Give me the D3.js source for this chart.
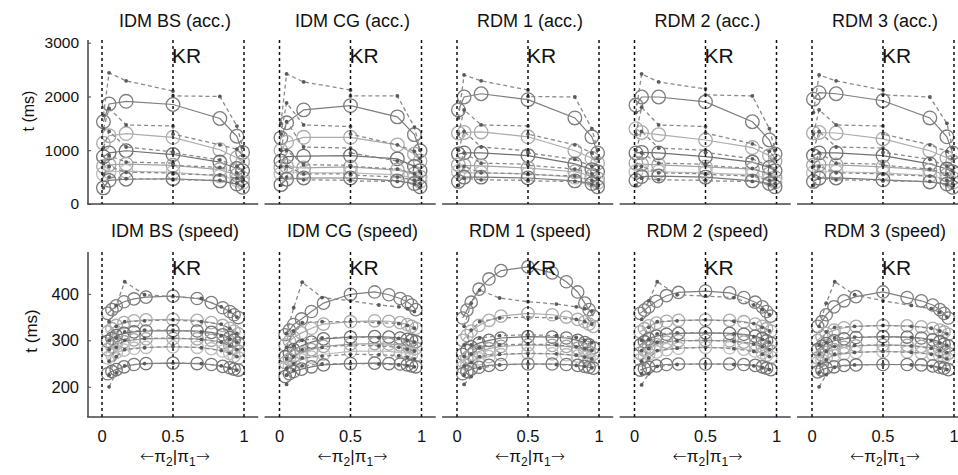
<!DOCTYPE html>
<html>
<head>
  <meta charset="utf-8">
  <title>KR - acc. and speed</title>
  <script src="https://d3js.org/d3.v7.min.js"></script>
  <style>
    body { margin: 0; background: #fff; }
    text { font-family: "Liberation Sans", Arial, sans-serif; fill: #111; }
  </style>
</head>
<body>
  <div id="chart"></div>
  <script>
    var accTitles = ["IDM BS (acc.)", "IDM CG (acc.)", "RDM 1 (acc.)", "RDM 2 (acc.)", "RDM 3 (acc.)"];
    var speedTitles = ["IDM BS (speed)", "IDM CG (speed)", "RDM 1 (speed)", "RDM 2 (speed)", "RDM 3 (speed)"];

    var xTicks = [0, 0.5, 1];
    var accYTicks = [0, 1000, 2000, 3000];
    var speedYTicks = [200, 300, 400];

    // pi_1 values of model points (circles) and data points (dots)
    var accX = [0.01, 0.05, 0.17, 0.5, 0.83, 0.95, 0.99];
    var accDataX = [0.01, 0.05, 0.17, 0.5, 0.5, 0.83, 0.95, 0.99];
    var speedX = [0.04, 0.07, 0.1, 0.155, 0.225, 0.31, 0.5, 0.67, 0.77, 0.85, 0.9, 0.93, 0.96];
    var speedDataX = [0.05, 0.1, 0.16, 0.3, 0.5, 0.7, 0.84, 0.9, 0.95];

    // ---- accuracy emphasis, model (ms) ----
    var idmBsAccModel = [
      [1530, 1860, 1910, 1850, 1590, 1260, 960],
      [1130, 1270, 1310, 1240, 1010, 860, 780],
      [880, 950, 990, 920, 780, 660, 620],
      [700, 730, 740, 720, 640, 540, 480],
      [560, 600, 610, 590, 520, 450, 400],
      [300, 440, 460, 470, 430, 370, 310]
    ];
    var idmCgAccModel = [
      [1230, 1510, 1750, 1830, 1620, 1290, 990],
      [1000, 1150, 1240, 1240, 1100, 930, 800],
      [800, 880, 890, 900, 840, 700, 620],
      [680, 700, 670, 690, 630, 560, 500],
      [560, 600, 580, 580, 540, 480, 420],
      [360, 460, 484, 484, 430, 380, 320]
    ];
    var rdm1AccModel = [
      [1750, 1990, 2050, 1940, 1600, 1250, 950],
      [1320, 1330, 1340, 1250, 990, 850, 760],
      [930, 950, 950, 900, 745, 640, 600],
      [730, 720, 710, 670, 600, 520, 470],
      [600, 580, 580, 560, 500, 450, 400],
      [420, 500, 500, 484, 430, 380, 320]
    ];
    var rdm2AccModel = [
      [1840, 1990, 1990, 1900, 1530, 1190, 930],
      [1400, 1330, 1290, 1190, 1050, 900, 800],
      [950, 960, 950, 880, 780, 680, 620],
      [760, 740, 726, 690, 650, 560, 490],
      [600, 610, 600, 580, 540, 470, 410],
      [440, 510, 520, 500, 430, 380, 320]
    ];
    var rdm3AccModel = [
      [1950, 2070, 2050, 1920, 1600, 1250, 950],
      [1320, 1330, 1320, 1210, 990, 860, 780],
      [900, 950, 950, 900, 745, 650, 600],
      [720, 730, 726, 690, 630, 540, 480],
      [580, 600, 600, 580, 530, 460, 400],
      [420, 480, 484, 450, 410, 370, 310]
    ];

    // ---- accuracy emphasis, data (ms) ----
    var idmBsAccData = [
      [1650, 2440, 2290, 2100, 2010, 2000, 1450, 1060],
      [1400, 1780, 1470, 1450, 1300, 1100, 1020, 900],
      [1050, 1350, 1060, 970, 950, 820, 700, 620],
      [750, 900, 780, 760, 720, 680, 580, 500],
      [550, 700, 590, 577, 560, 540, 480, 420],
      [300, 500, 470, 460, 450, 440, 390, 320]
    ];
    var idmCgAccData = [
      [1500, 2420, 2270, 2120, 2010, 2010, 1430, 1000],
      [1300, 1880, 1470, 1440, 1300, 1100, 980, 850],
      [1000, 1530, 1060, 1040, 950, 800, 700, 600],
      [700, 1000, 730, 720, 700, 650, 560, 480],
      [500, 700, 560, 560, 540, 500, 440, 380],
      [350, 500, 450, 440, 430, 420, 370, 300]
    ];
    var rdm1AccData = [
      [1600, 2400, 2290, 2120, 2000, 1990, 1400, 1000],
      [1300, 1750, 1470, 1450, 1300, 1100, 950, 850],
      [1000, 1350, 1060, 990, 950, 830, 700, 620],
      [700, 950, 760, 740, 720, 650, 560, 480],
      [520, 700, 580, 560, 550, 520, 440, 380],
      [350, 480, 450, 440, 430, 420, 360, 300]
    ];
    var rdm2AccData = [
      [1700, 2420, 2270, 2140, 2030, 2010, 1400, 1000],
      [1300, 1800, 1470, 1440, 1320, 1120, 980, 850],
      [1000, 1350, 1040, 1000, 960, 840, 700, 620],
      [700, 950, 760, 740, 720, 660, 560, 480],
      [520, 700, 580, 560, 550, 520, 440, 380],
      [350, 480, 450, 440, 430, 420, 360, 300]
    ];
    var rdm3AccData = [
      [1700, 2400, 2290, 2120, 2030, 1990, 1500, 1050],
      [1300, 1750, 1470, 1450, 1300, 1100, 980, 850],
      [1000, 1350, 1060, 1040, 960, 830, 700, 620],
      [700, 950, 760, 740, 720, 650, 560, 480],
      [520, 700, 580, 560, 550, 520, 440, 380],
      [350, 480, 450, 440, 430, 420, 360, 300]
    ];

    // ---- speed emphasis, model (ms) ----
    var idmBsSpeedModel = [
      [358, 366, 374, 383, 389, 393, 395, 390, 381, 370, 362, 355, 349],
      [318, 325, 332, 338, 342, 344, 345, 343, 338, 332, 326, 320, 314],
      [298, 304, 310, 315, 318, 320, 321, 320, 317, 312, 306, 300, 294],
      [280, 286, 292, 297, 301, 303, 304, 303, 300, 295, 289, 283, 277],
      [262, 268, 274, 279, 283, 285, 286, 285, 282, 277, 272, 266, 262],
      [228, 233, 237, 243, 248, 250, 251, 250, 248, 244, 241, 238, 236]
    ];
    var idmCgSpeedModel = [
      [312, 322, 334, 346, 362, 380, 399, 404, 398, 390, 383, 376, 366],
      [290, 298, 306, 316, 326, 335, 340, 342, 341, 338, 334, 330, 326],
      [265, 272, 280, 288, 296, 303, 307, 308, 307, 305, 302, 300, 297],
      [252, 259, 266, 273, 280, 287, 292, 293, 292, 290, 288, 286, 283],
      [240, 246, 252, 258, 264, 270, 276, 277, 276, 274, 272, 270, 267],
      [222, 228, 233, 238, 243, 247, 250, 251, 250, 249, 247, 245, 243]
    ];
    var rdm1SpeedModel = [
      [348, 365, 382, 410, 432, 450, 458, 445, 426, 404, 380, 366, 352],
      [300, 310, 320, 332, 343, 352, 358, 355, 350, 345, 340, 335, 330],
      [270, 278, 286, 294, 300, 305, 308, 307, 305, 300, 295, 290, 284],
      [255, 262, 269, 276, 282, 287, 290, 289, 287, 283, 279, 275, 270],
      [242, 248, 254, 260, 265, 269, 272, 271, 269, 266, 263, 260, 256],
      [228, 233, 238, 242, 246, 248, 249, 249, 248, 246, 244, 242, 240]
    ];
    var rdm2SpeedModel = [
      [358, 365, 372, 384, 396, 403, 406, 402, 392, 382, 372, 362, 352],
      [318, 325, 331, 337, 341, 343, 344, 343, 340, 335, 330, 325, 320],
      [290, 297, 303, 309, 313, 315, 316, 315, 313, 309, 304, 299, 294],
      [272, 279, 285, 291, 296, 299, 300, 299, 296, 292, 287, 282, 277],
      [258, 264, 270, 275, 280, 283, 285, 284, 281, 277, 273, 268, 264],
      [236, 239, 242, 245, 248, 249, 249, 249, 248, 246, 243, 240, 237]
    ];
    var rdm3SpeedModel = [
      [330, 340, 355, 372, 385, 394, 404, 392, 385, 376, 366, 358, 348],
      [300, 308, 315, 322, 327, 330, 332, 331, 329, 326, 322, 318, 313],
      [280, 287, 293, 299, 303, 306, 308, 307, 305, 301, 297, 292, 288],
      [262, 268, 274, 280, 285, 288, 290, 289, 287, 284, 280, 276, 272],
      [252, 257, 262, 267, 271, 274, 276, 275, 273, 270, 267, 263, 259],
      [232, 236, 240, 243, 246, 247, 248, 248, 247, 245, 242, 240, 237]
    ];

    // ---- speed emphasis, data (ms) ----
    var idmBsSpeedData = [
      [340, 375, 426, 398, 394, 390, 372, 362, 350],
      [300, 330, 340, 342, 344, 340, 335, 325, 315],
      [280, 305, 318, 322, 322, 318, 310, 302, 296],
      [255, 285, 300, 304, 305, 302, 296, 288, 280],
      [225, 265, 280, 284, 287, 284, 278, 272, 265],
      [200, 230, 245, 250, 251, 250, 245, 240, 236]
    ];
    var idmCgSpeedData = [
      [315, 370, 425, 392, 385, 376, 372, 368, 362],
      [285, 320, 338, 340, 340, 338, 336, 332, 326],
      [260, 288, 300, 305, 307, 306, 304, 300, 296],
      [240, 265, 280, 285, 290, 288, 285, 281, 277],
      [225, 250, 262, 266, 270, 269, 267, 264, 260],
      [205, 235, 245, 249, 250, 249, 247, 245, 243]
    ];
    var rdm1SpeedData = [
      [330, 380, 408, 391, 383, 378, 372, 368, 363],
      [290, 322, 340, 348, 350, 348, 345, 340, 335],
      [265, 290, 305, 310, 312, 310, 306, 300, 295],
      [245, 270, 285, 290, 292, 290, 286, 282, 278],
      [225, 252, 265, 270, 272, 271, 268, 264, 260],
      [205, 222, 240, 247, 249, 248, 246, 244, 241]
    ];
    var rdm2SpeedData = [
      [345, 385, 426, 398, 395, 392, 376, 366, 355],
      [300, 328, 340, 342, 344, 341, 336, 328, 320],
      [278, 302, 314, 316, 317, 314, 308, 302, 296],
      [255, 282, 296, 299, 300, 298, 292, 286, 280],
      [228, 262, 278, 283, 285, 282, 276, 270, 265],
      [204, 228, 244, 248, 249, 248, 245, 241, 237]
    ];
    var rdm3SpeedData = [
      [330, 380, 426, 398, 385, 375, 368, 360, 350],
      [290, 318, 328, 330, 332, 330, 326, 320, 314],
      [270, 295, 305, 307, 308, 306, 300, 294, 289],
      [250, 276, 287, 289, 290, 288, 283, 278, 273],
      [230, 258, 270, 274, 276, 274, 270, 265, 260],
      [200, 226, 242, 247, 248, 247, 244, 240, 237]
    ];

    var accModel = [idmBsAccModel, idmCgAccModel, rdm1AccModel, rdm2AccModel, rdm3AccModel];
    var accData = [idmBsAccData, idmCgAccData, rdm1AccData, rdm2AccData, rdm3AccData];
    var speedModel = [idmBsSpeedModel, idmCgSpeedModel, rdm1SpeedModel, rdm2SpeedModel, rdm3SpeedModel];
    var speedData = [idmBsSpeedData, idmCgSpeedData, rdm1SpeedData, rdm2SpeedData, rdm3SpeedData];

    // gray level of each model curve, top to bottom
    var curveShades = ["#7e7e7e", "#acacac", "#717171", "#a4a4a4", "#bcbcbc", "#777777"];

    var W = 958, H = 475;
    var svg = d3.select("#chart").append("svg")
      .attr("width", W)
      .attr("height", H);

    var rows = [
      { titles: accTitles, model: accModel, data: accData, mx: accX, dx: accDataX,
        yDomain: [0, 3050], top: 40, bottom: 204, yTicks: accYTicks, tickFont: 15.5,
        r: 6.8, titleY: 27, krY: 63, labelX: 34, labelY: 111, labelFont: 16, showX: false },
      { titles: speedTitles, model: speedModel, data: speedData, mx: speedX, dx: speedDataX,
        yDomain: [135, 490], top: 252, bottom: 417, yTicks: speedYTicks, tickFont: 16.5,
        r: 6.2, titleY: 237, krY: 275, labelX: 37, labelY: 331, labelFont: 17, showX: true }
    ];

    rows.forEach(function(row) {
      var y = d3.scaleLinear().domain(row.yDomain).range([row.bottom, row.top]);

      row.titles.forEach(function(title, k) {
        var p0 = 102 + 177.5 * k;
        var x = d3.scaleLinear().domain([0, 1]).range([p0, p0 + 142]);
        var g = svg.append("g");

        // baseline
        g.append("line")
          .attr("x1", x(-0.105)).attr("x2", x(1.1))
          .attr("y1", row.bottom).attr("y2", row.bottom)
          .attr("stroke", "#444").attr("stroke-width", 1.5);

        // model curves: solid lines with open circles
        row.model[k].forEach(function(series, i) {
          var pts = series.map(function(v, j) { return [row.mx[j], v]; });
          g.append("path")
            .datum(pts)
            .attr("fill", "none")
            .attr("stroke", curveShades[i])
            .attr("stroke-width", 1.2)
            .attr("d", d3.line().x(function(d) { return x(d[0]); }).y(function(d) { return y(d[1]); }));
          g.selectAll(null)
            .data(pts)
            .enter()
            .append("circle")
            .attr("cx", function(d) { return x(d[0]); })
            .attr("cy", function(d) { return y(d[1]); })
            .attr("r", row.r)
            .attr("fill", "none")
            .attr("stroke", curveShades[i])
            .attr("stroke-width", 1.3);
        });

        // data curves: dashed lines with small dots
        row.data[k].forEach(function(series) {
          var pts = series.map(function(v, j) { return [row.dx[j], v]; });
          g.append("path")
            .datum(pts)
            .attr("fill", "none")
            .attr("stroke", "#8a8a8a")
            .attr("stroke-width", 1.3)
            .attr("stroke-dasharray", "4,3")
            .attr("d", d3.line().x(function(d) { return x(d[0]); }).y(function(d) { return y(d[1]); }));
          g.selectAll(null)
            .data(pts)
            .enter()
            .append("circle")
            .attr("cx", function(d) { return x(d[0]); })
            .attr("cy", function(d) { return y(d[1]); })
            .attr("r", 1.9)
            .attr("fill", "#5a5a5a");
        });

        // reference lines at 0, 0.5, 1
        g.selectAll(null)
          .data(xTicks)
          .enter()
          .append("line")
          .attr("x1", function(d) { return x(d); })
          .attr("x2", function(d) { return x(d); })
          .attr("y1", row.top)
          .attr("y2", row.bottom)
          .attr("stroke", "#111")
          .attr("stroke-width", 1.5)
          .attr("stroke-dasharray", "3,3");

        g.append("text")
          .attr("x", x(0.5) - 1)
          .attr("y", row.krY)
          .attr("font-size", 21)
          .text("KR");

        g.append("text")
          .attr("x", x(0.5) + 2)
          .attr("y", row.titleY)
          .attr("text-anchor", "middle")
          .attr("font-size", 18)
          .text(title);

        if (row.showX) {
          g.selectAll(null)
            .data(xTicks)
            .enter()
            .append("text")
            .attr("x", function(d) { return x(d); })
            .attr("y", 442)
            .attr("text-anchor", "middle")
            .attr("font-size", 16.5)
            .text(function(d) { return d3.format("")(d); });

          var lab = g.append("text")
            .attr("x", x(0.5) + 2)
            .attr("y", 462)
            .attr("text-anchor", "middle")
            .attr("font-size", 17);
          lab.append("tspan").attr("font-family", "DejaVu Sans").attr("font-weight", 300).text("\u2190");
          lab.append("tspan").text("\u03c0");
          lab.append("tspan").attr("dy", 4).attr("font-size", 12).text("2");
          lab.append("tspan").attr("dy", -4).text("|\u03c0");
          lab.append("tspan").attr("dy", 4).attr("font-size", 12).text("1");
          lab.append("tspan").attr("dy", -4).attr("font-family", "DejaVu Sans").attr("font-weight", 300).text("\u2192");
        }

        // y axis only on the first panel of a row
        if (k === 0) {
          var ax = g.append("g")
            .attr("transform", "translate(88,0)")
            .call(d3.axisRight(y).tickValues(row.yTicks).tickSize(3).tickFormat(d3.format("d")));
          ax.select(".domain").attr("stroke", "#444").attr("stroke-width", 1.5)
            .attr("d", "M0," + row.top + "V" + row.bottom);
          ax.selectAll(".tick line").attr("stroke", "#444");
          ax.selectAll(".tick text")
            .attr("x", -9)
            .attr("text-anchor", "end")
            .attr("font-family", "Liberation Sans, Arial, sans-serif")
            .attr("font-size", row.tickFont)
            .attr("fill", "#111");

          g.append("text")
            .attr("transform", "translate(" + row.labelX + "," + row.labelY + ") rotate(-90)")
            .attr("text-anchor", "middle")
            .attr("font-size", row.labelFont)
            .text("t (ms)");
        }
      });
    });
  </script>
</body>
</html>
